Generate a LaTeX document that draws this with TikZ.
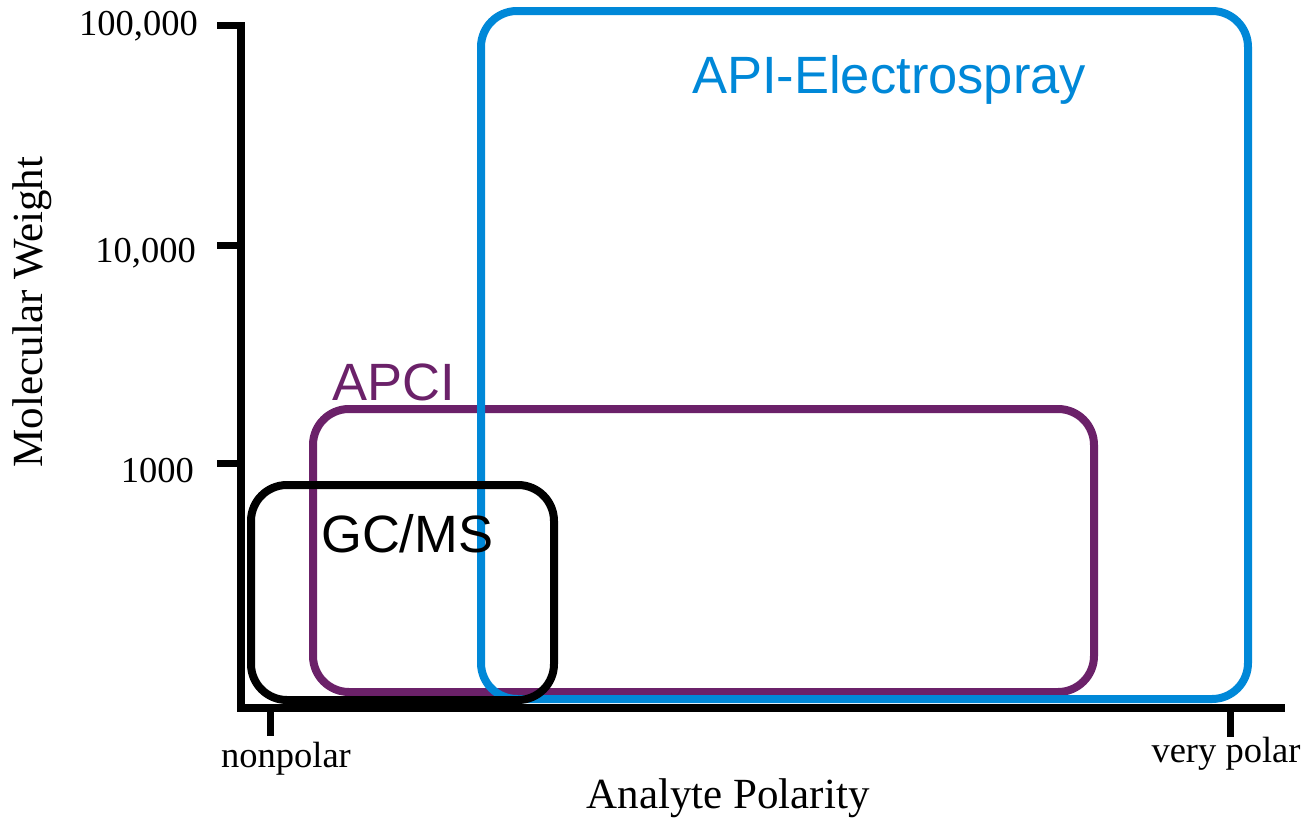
\documentclass[tikz,border=0pt]{standalone}
\usepackage{fontspec}
\setmainfont{Liberation Serif}
\newfontfamily\arialf{Liberation Sans}
\definecolor{esiblue}{HTML}{0088D8}
\definecolor{apcipurple}{HTML}{6B2169}
\begin{document}
\begin{tikzpicture}[x=1pt,y=-1pt,
  region/.style={draw, line width=8pt, rounded corners=36pt, inner sep=0pt, outer sep=0pt},
  axisline/.style={line width=8pt, line join=miter, line cap=butt},
  tickline/.style={line width=7pt},
  ticklbl/.style={font=\fontsize{36.5}{36.5}\selectfont, inner sep=0pt},
  axtitle/.style={font=\fontsize{43}{43}\selectfont, inner sep=0pt},
  boxlbl/.style={font=\arialf\fontsize{52.5}{52.5}\selectfont, inner sep=0pt}]
\useasboundingbox (0,0) rectangle (1307,822);
% axes
\coordinate (top) at (241,22);
\coordinate (origin) at (241,708);
\coordinate (right) at (1285,708);
\draw[axisline] (top) -- (origin) -- (right);
% y ticks
\coordinate (t1a) at (217,25);   \coordinate (t1b) at (241,25);
\coordinate (t2a) at (217,245);  \coordinate (t2b) at (241,245);
\coordinate (t3a) at (217,463);  \coordinate (t3b) at (241,463);
\draw[tickline] (t1a) -- (t1b);
\draw[tickline] (t2a) -- (t2b);
\draw[tickline] (t3a) -- (t3b);
% x ticks
\coordinate (x1a) at (270,708);  \coordinate (x1b) at (270,736);
\coordinate (x2a) at (1230,708); \coordinate (x2b) at (1230,737);
\draw[tickline] (x1a) -- (x1b);
\draw[tickline] (x2a) -- (x2b);
% tick labels
\node[ticklbl, anchor=base east] (l100k) at (198,35) {100,000};
\node[ticklbl, anchor=base east] (l10k) at (196,262) {10,000};
\node[ticklbl, anchor=base east] (l1k) at (194,482) {1000};
\node[ticklbl, anchor=base] (lnon) at (286,767) {nonpolar};
\node[ticklbl, anchor=base] (lvery) at (1226,762) {very polar};
% axis titles
\node[axtitle, anchor=base] (xtitle) at (728,808) {Analyte Polarity};
\node[axtitle, anchor=base, rotate=90] (ytitle) at (42,312) {Molecular Weight};
% regions
\node[region, color=apcipurple, minimum width=781pt, minimum height=283pt] (apci) at (703.5,550.5) {};
\node[region, color=esiblue, minimum width=767pt, minimum height=688pt] (esi) at (864.5,355) {};
\node[region, color=black, minimum width=303pt, minimum height=215pt] (gcms) at (402.5,592.5) {};
% region labels
\node[boxlbl, text=esiblue, anchor=base west] (esilbl) at (692,93) {API-Electrospray};
\node[boxlbl, text=apcipurple, anchor=base west] (apcilbl) at (332,400) {APCI};
\node[boxlbl, text=black, anchor=base west] (gcmslbl) at (321,552) {GC/MS};
\end{tikzpicture}
\end{document}
